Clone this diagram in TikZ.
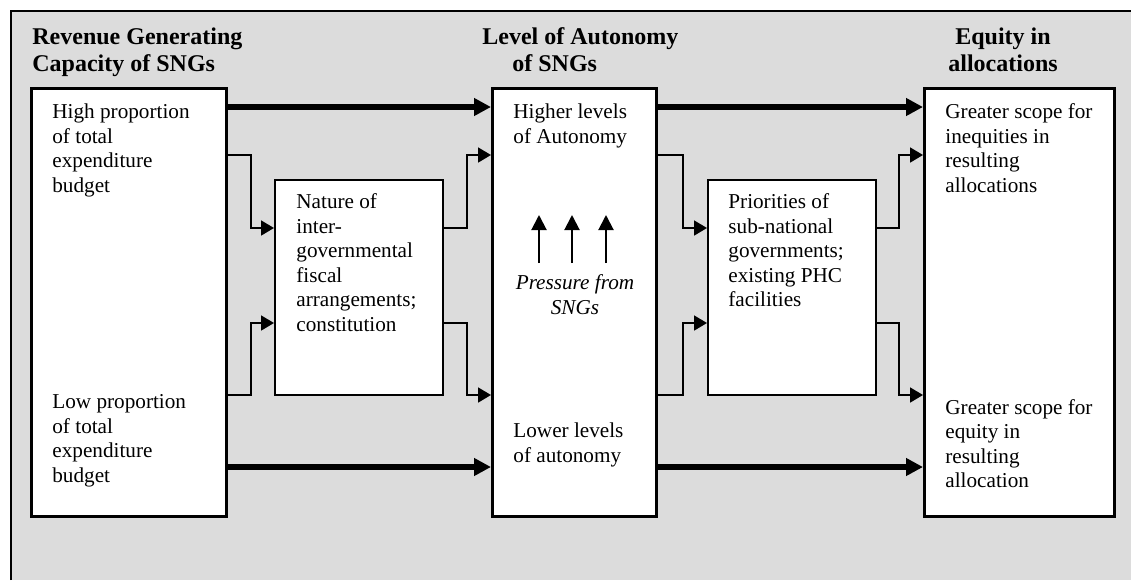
\documentclass[tikz,border=0pt]{standalone}
\usepackage{fontspec}
\setmainfont{Liberation Serif}
\usetikzlibrary{arrows.meta}
\definecolor{panelgray}{RGB}{220,220,220}
\tikzset{
  bigbox/.style={draw,fill=white,line width=1.6pt,anchor=north west,inner sep=0pt,minimum height=213.9pt},
  smallbox/.style={draw,fill=white,line width=0.9pt,anchor=north west,inner sep=0pt,minimum width=84.1pt,minimum height=107.6pt},
  boxtext/.style={anchor=north west,align=left,inner sep=0pt,font=\fontsize{10.6}{12.25}\selectfont},
  headtext/.style={anchor=north west,align=left,inner sep=0pt,font=\fontsize{12}{13.5}\selectfont\bfseries},
  fatarrow/.style={line width=2.8pt,-{Triangle[length=8.5pt,width=8.5pt]}},
  thinarrow/.style={line width=0.9pt,-{Triangle[length=6.5pt,width=7.5pt]}},
  pusharrow/.style={line width=1pt,-{Triangle[length=7.5pt,width=7.5pt]}},
}
\begin{document}
\begin{tikzpicture}[x=0.5pt,y=-0.5pt]
  \useasboundingbox (0,0) rectangle (1131,580);
  \fill[panelgray] (11,11) rectangle (1131,580);
  \draw[line width=1.2pt] (11,580) -- (11,11) -- (1131,11);

  \coordinate (ra) at (0,107);
  \coordinate (rb) at (0,155);
  \coordinate (rc) at (0,228);
  \coordinate (rd) at (0,323);
  \coordinate (re) at (0,395);
  \coordinate (rf) at (0,467);
  \coordinate (ka) at (251,0);
  \coordinate (kb) at (467,0);
  \coordinate (kc) at (683,0);
  \coordinate (kd) at (899,0);

  \node[headtext] (head1) at (32,27.5) {Revenue Generating\\Capacity of SNGs};
  \node[headtext] (head2) at (482,27.5) {Level of Autonomy\\\hspace*{15pt}of SNGs};
  \node[headtext,anchor=north,align=center] (head3) at (1003,27.5) {Equity in\\allocations};

  \node[bigbox,minimum width=97.4pt] (revbox) at (30,87) {};
  \node[bigbox,minimum width=81.9pt] (autbox) at (491,87) {};
  \node[bigbox,minimum width=94.9pt] (eqbox) at (923,87) {};
  \node[smallbox] (natbox) at (274,179) {};
  \node[smallbox] (prbox) at (707,179) {};

  \node[boxtext] (revhi) at (52,103.5) {High proportion\\of total\\expenditure\\budget};
  \node[boxtext] (revlo) at (52,394.5) {Low proportion\\of total\\expenditure\\budget};
  \node[boxtext] (nattext) at (296,193.5) {Nature of\\inter-\\governmental\\fiscal\\arrangements;\\constitution};
  \node[boxtext] (authi) at (513,103.5) {Higher levels\\of Autonomy};
  \node[boxtext] (autlo) at (513,422.5) {Lower levels\\of autonomy};
  \node[boxtext] (prtext) at (728,193.5) {Priorities of\\sub-national\\governments;\\existing PHC\\facilities};
  \node[boxtext] (eqhi) at (945,103.5) {Greater scope for\\inequities in\\resulting\\allocations};
  \node[boxtext] (eqlo) at (945,399) {Greater scope for\\equity in\\resulting\\allocation};
  \node[boxtext,anchor=north,align=center,font=\fontsize{10.6}{12.25}\selectfont\itshape] (pressure) at (575,274.5) {Pressure from\\SNGs};

  \draw[fatarrow] (revbox.east |- ra) -- (autbox.west |- ra);
  \draw[fatarrow] (autbox.east |- ra) -- (eqbox.west |- ra);
  \draw[fatarrow] (revbox.east |- rf) -- (autbox.west |- rf);
  \draw[fatarrow] (autbox.east |- rf) -- (eqbox.west |- rf);

  \draw[thinarrow] (revbox.east |- rb) -| (ka |- rc) -- (natbox.west |- rc);
  \draw[thinarrow] (revbox.east |- re) -| (ka |- rd) -- (natbox.west |- rd);
  \draw[thinarrow] (natbox.east |- rc) -| (kb |- rb) -- (autbox.west |- rb);
  \draw[thinarrow] (natbox.east |- rd) -| (kb |- re) -- (autbox.west |- re);
  \draw[thinarrow] (autbox.east |- rb) -| (kc |- rc) -- (prbox.west |- rc);
  \draw[thinarrow] (autbox.east |- re) -| (kc |- rd) -- (prbox.west |- rd);
  \draw[thinarrow] (prbox.east |- rc) -| (kd |- rb) -- (eqbox.west |- rb);
  \draw[thinarrow] (prbox.east |- rd) -| (kd |- re) -- (eqbox.west |- re);

  \foreach \dx in {-36,-3,31}
    \draw[pusharrow] ([xshift=\dx*0.5pt,yshift=5.75pt]pressure.north) -- ++(0,-48);
\end{tikzpicture}
\end{document}
